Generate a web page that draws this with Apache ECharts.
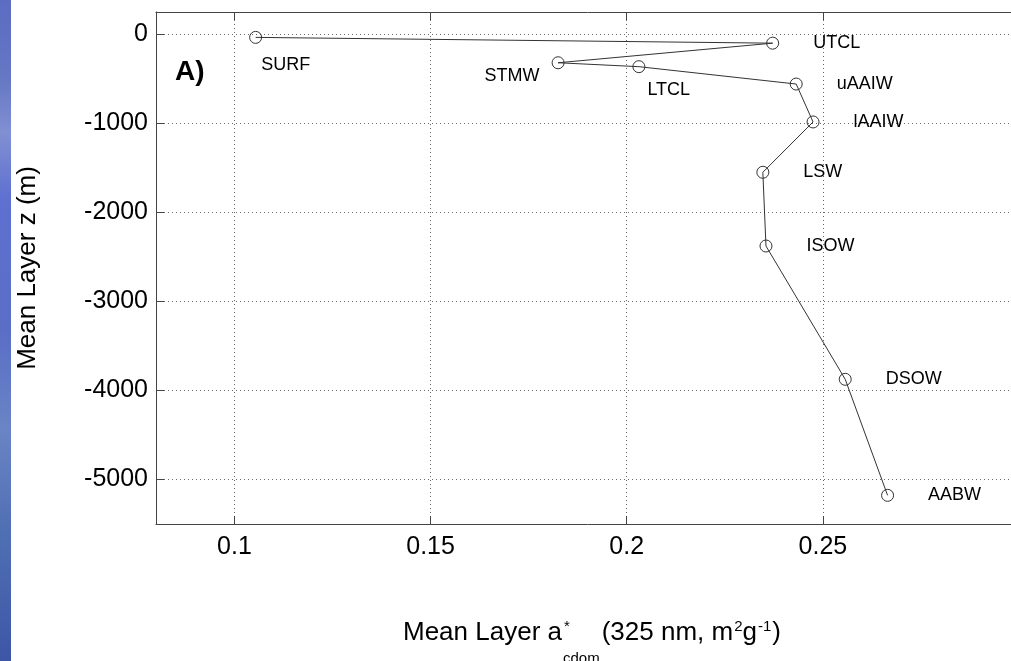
<!DOCTYPE html>
<html><head><meta charset="utf-8">
<script src="https://cdn.jsdelivr.net/npm/echarts@6/dist/echarts.min.js"></script>
<style>html,body{margin:0;padding:0;background:#fff;overflow:hidden;width:1011px;height:661px}#c{width:1020px;height:661px}</style>
</head><body><div id="c"></div>
<script>
// ---- data ----
const layerNames  = ['SURF','UTCL','STMW','LTCL','uAAIW','lAAIW','LSW','ISOW','DSOW','AABW'];
const acdomValues = [0.1054,0.2372,0.1825,0.2031,0.2432,0.2475,0.2347,0.2355,0.2557,0.2665];
const depthValues = [-35,-100,-320,-364,-559,-985,-1550,-2378,-3875,-5178];
const xTickValues = [0.1,0.15,0.2,0.25,0.3];
const xLabelValues = [0.1,0.15,0.2,0.25];
const yTickValues = [-5000,-4000,-3000,-2000,-1000,0];
const xRange = [0.08,0.3];
const yRange = [-5500,250];
const panelLabel = 'A)';
const yTitle = 'Mean Layer z (m)';

// ---- styling ----
const F = '"Liberation Sans", Arial, Helvetica, sans-serif';
const labelOverrides = {
  SURF: {position:[12,34], align:'left', verticalAlign:'middle'},
  STMW: {position:[-12,20], align:'right', verticalAlign:'middle'},
  LTCL: {position:[15,30], align:'left', verticalAlign:'middle'}
};

const chart = echarts.init(document.getElementById('c'), null, {renderer:'canvas'});

const seriesData = layerNames.map((n,i)=>{
  const item = {name:n, value:[acdomValues[i], depthValues[i]]};
  if (labelOverrides[n]) item.label = Object.assign({}, labelOverrides[n]);
  return item;
});

// x-axis title with sub/superscripts, laid out by measured widths
const ctx = document.createElement('canvas').getContext('2d');
function tw(t,s){ ctx.font = s+'px "Liberation Sans"'; return ctx.measureText(t).width; }
const titleParts = [];
const MAIN=26, SMALL=15, SUB=15;
const cyMain=633, cySup=627, cySub=659;
let cx = 403;
function put(t,s,cy,x){ titleParts.push({type:'text', x:x, y:cy, silent:true,
  style:{text:t, fontSize:s, fontFamily:F, fill:'#000', align:'left', verticalAlign:'middle'}}); }
put('Mean Layer a', MAIN, cyMain, cx); cx += tw('Mean Layer a', MAIN);
put('*', SMALL, cySup, cx+2);
put('cdom', SUB, cySub, cx+1);
cx = Math.max(cx+2+tw('*',SMALL), cx+1+tw('cdom',SUB)) + 2;
put('(325 nm, m', MAIN, cyMain, cx); cx += tw('(325 nm, m', MAIN);
put('2', SMALL, cySup, cx+1); cx += 1+tw('2',SMALL);
put('g', MAIN, cyMain, cx); cx += tw('g', MAIN);
put('-1', SMALL, cySup, cx+1); cx += 1+tw('-1',SMALL)+1;
put(')', MAIN, cyMain, cx);

const axisLineStyle = {color:'#444', width:1};
const gridLine = {show:true, lineStyle:{color:'#666', width:1, type:[1,3]}};

chart.setOption({
  animation:false,
  backgroundColor:'#fff',
  grid:{left:156, top:12, right:1, bottom:137, containLabel:false},
  xAxis:[{
    type:'value', min:xRange[0], max:xRange[1], position:'bottom',
    axisLine:{show:true, onZero:false, lineStyle:axisLineStyle},
    axisTick:{show:true, inside:true, length:8, customValues:xTickValues, lineStyle:axisLineStyle},
    axisLabel:{show:true, customValues:xLabelValues, margin:11, fontSize:25, fontFamily:F, color:'#000',
      formatter:v=>String(+(+v).toFixed(2))},
    splitLine:gridLine
  },{
    type:'value', min:xRange[0], max:xRange[1], position:'top',
    axisLine:{show:true, onZero:false, lineStyle:axisLineStyle},
    axisTick:{show:true, inside:true, length:8, customValues:xTickValues, lineStyle:axisLineStyle},
    axisLabel:{show:false}, splitLine:{show:false}
  }],
  yAxis:{
    type:'value', min:yRange[0], max:yRange[1],
    axisLine:{show:true, onZero:false, lineStyle:axisLineStyle},
    axisTick:{show:true, inside:true, length:8, customValues:yTickValues, lineStyle:axisLineStyle},
    axisLabel:{show:true, customValues:yTickValues, margin:8, fontSize:25, fontFamily:F, color:'#000',
      formatter:v=>String(Math.round(v))},
    splitLine:gridLine
  },
  series:[{
    type:'line', xAxisIndex:0, yAxisIndex:0,
    data:seriesData,
    symbol:'circle', symbolSize:12,
    lineStyle:{color:'#333', width:1},
    itemStyle:{color:'rgba(0,0,0,0)', borderColor:'#333', borderWidth:1},
    label:{show:true, position:'right', distance:34, fontSize:18, fontFamily:F, color:'#000',
      formatter:p=>p.name},
    emphasis:{disabled:true},
    clip:false
  }],
  graphic:[
    {type:'rect', left:0, top:0, shape:{x:0,y:0,width:11,height:661}, silent:true,
     style:{fill:new echarts.graphic.LinearGradient(0,0,0,1,[
       {offset:0,color:'#5b6cc2'},{offset:0.12,color:'#6677c4'},{offset:0.2,color:'#8190d2'},
       {offset:0.3,color:'#5e70d0'},{offset:0.5,color:'#5a6ec6'},{offset:0.65,color:'#6a84c4'},
       {offset:0.8,color:'#5070b4'},{offset:1,color:'#3d56a6'}])}},
    {type:'text', x:175, y:72, silent:true,
     style:{text:panelLabel, fontSize:28, fontWeight:'bold', fontFamily:F, fill:'#000', align:'left', verticalAlign:'middle'}},
    {type:'text', x:28, y:268, rotation:Math.PI/2, silent:true,
     style:{text:yTitle, fontSize:26, fontFamily:F, fill:'#000', align:'center', verticalAlign:'middle'}},
    ...titleParts
  ]
});
</script></body></html>
